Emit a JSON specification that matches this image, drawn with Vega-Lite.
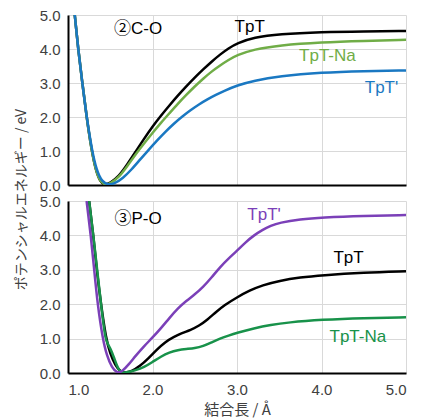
{
  "$schema": "https://vega.github.io/schema/vega-lite/v6.json",
  "padding": {"left": 14, "top": 8, "right": 5, "bottom": 2},
  "bounds": "flush",
  "spacing": 16,
  "resolve": {"scale": {"color": "independent"}},
  "config": {
    "view": {"stroke": null},
    "axis": {
      "domainColor": "#000000", "domainWidth": 2,
      "gridColor": "#d9d9d9", "gridWidth": 1,
      "labelColor": "#404040", "labelFont": "Liberation Sans", "labelFontSize": 15,
      "titleColor": "#404040", "titleFont": "Noto Sans CJK JP", "titleFontSize": 14, "titleFontWeight": "normal",
      "ticks": false, "labelPadding": 8
    },
    "text": {"fontWeight": "normal"}
  },
  "datasets": {
    "curves": [
      {"panel":"C-O","series":"TpT","r":1.08,"e":5.0},{"panel":"C-O","series":"TpT","r":1.12,"e":4.0},{"panel":"C-O","series":"TpT","r":1.17,"e":3.0},{"panel":"C-O","series":"TpT","r":1.22,"e":2.0},{"panel":"C-O","series":"TpT","r":1.28,"e":1.0},{"panel":"C-O","series":"TpT","r":1.33,"e":0.42},{"panel":"C-O","series":"TpT","r":1.38,"e":0.1},{"panel":"C-O","series":"TpT","r":1.43,"e":0.0},{"panel":"C-O","series":"TpT","r":1.5,"e":0.06},{"panel":"C-O","series":"TpT","r":1.6,"e":0.25},{"panel":"C-O","series":"TpT","r":1.7,"e":0.6},{"panel":"C-O","series":"TpT","r":1.8,"e":0.98},{"panel":"C-O","series":"TpT","r":1.9,"e":1.36},{"panel":"C-O","series":"TpT","r":2.0,"e":1.72},{"panel":"C-O","series":"TpT","r":2.1,"e":2.04},{"panel":"C-O","series":"TpT","r":2.2,"e":2.34},{"panel":"C-O","series":"TpT","r":2.3,"e":2.63},{"panel":"C-O","series":"TpT","r":2.4,"e":2.9},{"panel":"C-O","series":"TpT","r":2.5,"e":3.16},{"panel":"C-O","series":"TpT","r":2.6,"e":3.4},{"panel":"C-O","series":"TpT","r":2.7,"e":3.63},{"panel":"C-O","series":"TpT","r":2.8,"e":3.84},{"panel":"C-O","series":"TpT","r":2.9,"e":4.02},{"panel":"C-O","series":"TpT","r":3.0,"e":4.17},{"panel":"C-O","series":"TpT","r":3.2,"e":4.34},{"panel":"C-O","series":"TpT","r":3.5,"e":4.44},{"panel":"C-O","series":"TpT","r":4.0,"e":4.5},{"panel":"C-O","series":"TpT","r":4.5,"e":4.52},{"panel":"C-O","series":"TpT","r":5.0,"e":4.53},
      {"panel":"C-O","series":"TpT-Na","r":1.08,"e":5.0},{"panel":"C-O","series":"TpT-Na","r":1.12,"e":4.0},{"panel":"C-O","series":"TpT-Na","r":1.17,"e":3.0},{"panel":"C-O","series":"TpT-Na","r":1.22,"e":2.0},{"panel":"C-O","series":"TpT-Na","r":1.28,"e":1.0},{"panel":"C-O","series":"TpT-Na","r":1.33,"e":0.42},{"panel":"C-O","series":"TpT-Na","r":1.38,"e":0.1},{"panel":"C-O","series":"TpT-Na","r":1.44,"e":0.0},{"panel":"C-O","series":"TpT-Na","r":1.5,"e":0.04},{"panel":"C-O","series":"TpT-Na","r":1.6,"e":0.22},{"panel":"C-O","series":"TpT-Na","r":1.7,"e":0.55},{"panel":"C-O","series":"TpT-Na","r":1.8,"e":0.9},{"panel":"C-O","series":"TpT-Na","r":1.9,"e":1.22},{"panel":"C-O","series":"TpT-Na","r":2.0,"e":1.53},{"panel":"C-O","series":"TpT-Na","r":2.1,"e":1.83},{"panel":"C-O","series":"TpT-Na","r":2.2,"e":2.11},{"panel":"C-O","series":"TpT-Na","r":2.3,"e":2.39},{"panel":"C-O","series":"TpT-Na","r":2.4,"e":2.65},{"panel":"C-O","series":"TpT-Na","r":2.5,"e":2.9},{"panel":"C-O","series":"TpT-Na","r":2.6,"e":3.13},{"panel":"C-O","series":"TpT-Na","r":2.7,"e":3.34},{"panel":"C-O","series":"TpT-Na","r":2.8,"e":3.52},{"panel":"C-O","series":"TpT-Na","r":2.9,"e":3.68},{"panel":"C-O","series":"TpT-Na","r":3.0,"e":3.82},{"panel":"C-O","series":"TpT-Na","r":3.2,"e":3.99},{"panel":"C-O","series":"TpT-Na","r":3.5,"e":4.11},{"panel":"C-O","series":"TpT-Na","r":4.0,"e":4.2},{"panel":"C-O","series":"TpT-Na","r":4.5,"e":4.24},{"panel":"C-O","series":"TpT-Na","r":5.0,"e":4.27},
      {"panel":"C-O","series":"TpT'","r":1.08,"e":5.0},{"panel":"C-O","series":"TpT'","r":1.12,"e":4.0},{"panel":"C-O","series":"TpT'","r":1.17,"e":3.0},{"panel":"C-O","series":"TpT'","r":1.22,"e":2.0},{"panel":"C-O","series":"TpT'","r":1.285,"e":1.0},{"panel":"C-O","series":"TpT'","r":1.34,"e":0.42},{"panel":"C-O","series":"TpT'","r":1.4,"e":0.1},{"panel":"C-O","series":"TpT'","r":1.48,"e":0.0},{"panel":"C-O","series":"TpT'","r":1.55,"e":0.04},{"panel":"C-O","series":"TpT'","r":1.65,"e":0.2},{"panel":"C-O","series":"TpT'","r":1.75,"e":0.45},{"panel":"C-O","series":"TpT'","r":1.85,"e":0.74},{"panel":"C-O","series":"TpT'","r":1.95,"e":1.02},{"panel":"C-O","series":"TpT'","r":2.05,"e":1.3},{"panel":"C-O","series":"TpT'","r":2.15,"e":1.56},{"panel":"C-O","series":"TpT'","r":2.25,"e":1.8},{"panel":"C-O","series":"TpT'","r":2.35,"e":2.01},{"panel":"C-O","series":"TpT'","r":2.45,"e":2.2},{"panel":"C-O","series":"TpT'","r":2.55,"e":2.37},{"panel":"C-O","series":"TpT'","r":2.65,"e":2.52},{"panel":"C-O","series":"TpT'","r":2.75,"e":2.65},{"panel":"C-O","series":"TpT'","r":2.85,"e":2.77},{"panel":"C-O","series":"TpT'","r":3.0,"e":2.93},{"panel":"C-O","series":"TpT'","r":3.2,"e":3.07},{"panel":"C-O","series":"TpT'","r":3.5,"e":3.2},{"panel":"C-O","series":"TpT'","r":4.0,"e":3.31},{"panel":"C-O","series":"TpT'","r":4.5,"e":3.35},{"panel":"C-O","series":"TpT'","r":5.0,"e":3.37},
      {"panel":"P-O","series":"TpT","r":1.25,"e":5.0},{"panel":"P-O","series":"TpT","r":1.3,"e":4.0},{"panel":"P-O","series":"TpT","r":1.34,"e":3.0},{"panel":"P-O","series":"TpT","r":1.39,"e":2.0},{"panel":"P-O","series":"TpT","r":1.45,"e":1.0},{"panel":"P-O","series":"TpT","r":1.5,"e":0.55},{"panel":"P-O","series":"TpT","r":1.56,"e":0.22},{"panel":"P-O","series":"TpT","r":1.62,"e":0.04},{"panel":"P-O","series":"TpT","r":1.67,"e":0.0},{"panel":"P-O","series":"TpT","r":1.75,"e":0.04},{"panel":"P-O","series":"TpT","r":1.85,"e":0.2},{"panel":"P-O","series":"TpT","r":1.95,"e":0.42},{"panel":"P-O","series":"TpT","r":2.05,"e":0.68},{"panel":"P-O","series":"TpT","r":2.15,"e":0.9},{"panel":"P-O","series":"TpT","r":2.25,"e":1.05},{"panel":"P-O","series":"TpT","r":2.35,"e":1.16},{"panel":"P-O","series":"TpT","r":2.45,"e":1.25},{"panel":"P-O","series":"TpT","r":2.55,"e":1.37},{"panel":"P-O","series":"TpT","r":2.65,"e":1.55},{"panel":"P-O","series":"TpT","r":2.75,"e":1.77},{"panel":"P-O","series":"TpT","r":2.85,"e":1.97},{"panel":"P-O","series":"TpT","r":3.0,"e":2.2},{"panel":"P-O","series":"TpT","r":3.15,"e":2.4},{"panel":"P-O","series":"TpT","r":3.3,"e":2.55},{"panel":"P-O","series":"TpT","r":3.5,"e":2.68},{"panel":"P-O","series":"TpT","r":3.75,"e":2.78},{"panel":"P-O","series":"TpT","r":4.0,"e":2.84},{"panel":"P-O","series":"TpT","r":4.5,"e":2.92},{"panel":"P-O","series":"TpT","r":5.0,"e":2.96},
      {"panel":"P-O","series":"TpT-Na","r":1.25,"e":5.0},{"panel":"P-O","series":"TpT-Na","r":1.3,"e":4.0},{"panel":"P-O","series":"TpT-Na","r":1.345,"e":3.0},{"panel":"P-O","series":"TpT-Na","r":1.39,"e":2.0},{"panel":"P-O","series":"TpT-Na","r":1.44,"e":1.0},{"panel":"P-O","series":"TpT-Na","r":1.47,"e":0.85},{"panel":"P-O","series":"TpT-Na","r":1.5,"e":0.72},{"panel":"P-O","series":"TpT-Na","r":1.54,"e":0.48},{"panel":"P-O","series":"TpT-Na","r":1.58,"e":0.2},{"panel":"P-O","series":"TpT-Na","r":1.61,"e":0.06},{"panel":"P-O","series":"TpT-Na","r":1.64,"e":0.0},{"panel":"P-O","series":"TpT-Na","r":1.7,"e":0.02},{"panel":"P-O","series":"TpT-Na","r":1.8,"e":0.08},{"panel":"P-O","series":"TpT-Na","r":1.9,"e":0.17},{"panel":"P-O","series":"TpT-Na","r":2.0,"e":0.32},{"panel":"P-O","series":"TpT-Na","r":2.1,"e":0.48},{"panel":"P-O","series":"TpT-Na","r":2.2,"e":0.6},{"panel":"P-O","series":"TpT-Na","r":2.3,"e":0.67},{"panel":"P-O","series":"TpT-Na","r":2.4,"e":0.7},{"panel":"P-O","series":"TpT-Na","r":2.5,"e":0.72},{"panel":"P-O","series":"TpT-Na","r":2.6,"e":0.78},{"panel":"P-O","series":"TpT-Na","r":2.7,"e":0.89},{"panel":"P-O","series":"TpT-Na","r":2.8,"e":1.0},{"panel":"P-O","series":"TpT-Na","r":2.9,"e":1.09},{"panel":"P-O","series":"TpT-Na","r":3.0,"e":1.17},{"panel":"P-O","series":"TpT-Na","r":3.2,"e":1.3},{"panel":"P-O","series":"TpT-Na","r":3.4,"e":1.4},{"panel":"P-O","series":"TpT-Na","r":3.6,"e":1.47},{"panel":"P-O","series":"TpT-Na","r":4.0,"e":1.55},{"panel":"P-O","series":"TpT-Na","r":4.5,"e":1.6},{"panel":"P-O","series":"TpT-Na","r":5.0,"e":1.62},
      {"panel":"P-O","series":"TpT'","r":1.22,"e":5.0},{"panel":"P-O","series":"TpT'","r":1.27,"e":4.0},{"panel":"P-O","series":"TpT'","r":1.31,"e":3.0},{"panel":"P-O","series":"TpT'","r":1.35,"e":2.0},{"panel":"P-O","series":"TpT'","r":1.41,"e":1.0},{"panel":"P-O","series":"TpT'","r":1.46,"e":0.5},{"panel":"P-O","series":"TpT'","r":1.52,"e":0.15},{"panel":"P-O","series":"TpT'","r":1.58,"e":0.0},{"panel":"P-O","series":"TpT'","r":1.64,"e":0.04},{"panel":"P-O","series":"TpT'","r":1.72,"e":0.25},{"panel":"P-O","series":"TpT'","r":1.8,"e":0.5},{"panel":"P-O","series":"TpT'","r":1.9,"e":0.78},{"panel":"P-O","series":"TpT'","r":2.0,"e":1.03},{"panel":"P-O","series":"TpT'","r":2.1,"e":1.3},{"panel":"P-O","series":"TpT'","r":2.2,"e":1.6},{"panel":"P-O","series":"TpT'","r":2.3,"e":1.88},{"panel":"P-O","series":"TpT'","r":2.4,"e":2.1},{"panel":"P-O","series":"TpT'","r":2.5,"e":2.28},{"panel":"P-O","series":"TpT'","r":2.6,"e":2.5},{"panel":"P-O","series":"TpT'","r":2.7,"e":2.78},{"panel":"P-O","series":"TpT'","r":2.8,"e":3.08},{"panel":"P-O","series":"TpT'","r":2.9,"e":3.33},{"panel":"P-O","series":"TpT'","r":3.0,"e":3.55},{"panel":"P-O","series":"TpT'","r":3.1,"e":3.8},{"panel":"P-O","series":"TpT'","r":3.2,"e":4.0},{"panel":"P-O","series":"TpT'","r":3.3,"e":4.16},{"panel":"P-O","series":"TpT'","r":3.4,"e":4.28},{"panel":"P-O","series":"TpT'","r":3.5,"e":4.37},{"panel":"P-O","series":"TpT'","r":3.75,"e":4.47},{"panel":"P-O","series":"TpT'","r":4.0,"e":4.52},{"panel":"P-O","series":"TpT'","r":4.5,"e":4.57},{"panel":"P-O","series":"TpT'","r":5.0,"e":4.59}
    ],
    "labels": [
      {"panel":"C-O","series":"TpT","r":3.15,"e":4.65},
      {"panel":"C-O","series":"TpT-Na","r":4.07,"e":3.78},
      {"panel":"C-O","series":"TpT'","r":4.71,"e":2.84},
      {"panel":"P-O","series":"TpT'","r":3.32,"e":4.59},
      {"panel":"P-O","series":"TpT","r":4.32,"e":3.35},
      {"panel":"P-O","series":"TpT-Na","r":4.43,"e":1.06}
    ],
    "titles": [
      {"panel":"C-O","label":"②C-O","r":1.83,"e":4.58},
      {"panel":"P-O","label":"③P-O","r":1.83,"e":4.49}
    ]
  },
  "vconcat": [
    {
      "width": 338, "height": 170,
      "encoding": {
        "x": {"field":"r","type":"quantitative","scale":{"domain":[1,5]},"axis":{"values":[1,2,3,4,5],"labels":false,"title":null}},
        "y": {"field":"e","type":"quantitative","scale":{"domain":[0,5]},"axis":{"values":[0,1,2,3,4,5],"format":".1f","title":"ポテンシャルエネルギー / eV","titleX":-47,"titleY":184,"titleAngle":270,"titleAlign":"center","titleBaseline":"middle"}}
      },
      "layer": [
        {
          "data": {"name":"curves"},
          "transform": [{"filter":"datum.panel === 'C-O'"}],
          "mark": {"type":"line","strokeWidth":2.5,"interpolate":"basis","clip":true},
          "encoding": {"color":{"field":"series","type":"nominal","scale":{"domain":["TpT'","TpT","TpT-Na"],"range":["#1a78c2","#000000","#70ad47"]},"legend":null}}
        },
        {
          "data": {"name":"labels"},
          "transform": [{"filter":"datum.panel === 'C-O'"}],
          "mark": {"type":"text","fontSize":17,"fontWeight":"normal","font":"Liberation Sans","align":"center","baseline":"middle"},
          "encoding": {"text":{"field":"series"},"color":{"field":"series","type":"nominal","scale":{"domain":["TpT'","TpT","TpT-Na"],"range":["#1a78c2","#000000","#70ad47"]},"legend":null}}
        },
        {
          "data": {"name":"titles"},
          "transform": [{"filter":"datum.panel === 'C-O'"}],
          "mark": {"type":"text","fontSize":17,"fontWeight":"normal","font":"Liberation Sans, Noto Sans CJK JP","align":"center","baseline":"middle","color":"#000000"},
          "encoding": {"text":{"field":"label"}}
        }
      ]
    },
    {
      "width": 338, "height": 172,
      "encoding": {
        "x": {"field":"r","type":"quantitative","scale":{"domain":[1,5]},"axis":{"values":[1,2,3,4,5],"format":".1f","labelPadding":9,"title":"結合長 / Å","titleFontSize":15,"titlePadding":5}},
        "y": {"field":"e","type":"quantitative","scale":{"domain":[0,5]},"axis":{"values":[0,1,2,3,4,5],"format":".1f","title":null}}
      },
      "layer": [
        {
          "data": {"name":"curves"},
          "transform": [{"filter":"datum.panel === 'P-O'"}],
          "mark": {"type":"line","strokeWidth":2.5,"interpolate":"basis","clip":true},
          "encoding": {"color":{"field":"series","type":"nominal","scale":{"domain":["TpT'","TpT","TpT-Na"],"range":["#7b40b8","#000000","#18924a"]},"legend":null}}
        },
        {
          "data": {"name":"labels"},
          "transform": [{"filter":"datum.panel === 'P-O'"}],
          "mark": {"type":"text","fontSize":17,"fontWeight":"normal","font":"Liberation Sans","align":"center","baseline":"middle"},
          "encoding": {"text":{"field":"series"},"color":{"field":"series","type":"nominal","scale":{"domain":["TpT'","TpT","TpT-Na"],"range":["#7b40b8","#000000","#18924a"]},"legend":null}}
        },
        {
          "data": {"name":"titles"},
          "transform": [{"filter":"datum.panel === 'P-O'"}],
          "mark": {"type":"text","fontSize":17,"fontWeight":"normal","font":"Liberation Sans, Noto Sans CJK JP","align":"center","baseline":"middle","color":"#000000"},
          "encoding": {"text":{"field":"label"}}
        }
      ]
    }
  ]
}
